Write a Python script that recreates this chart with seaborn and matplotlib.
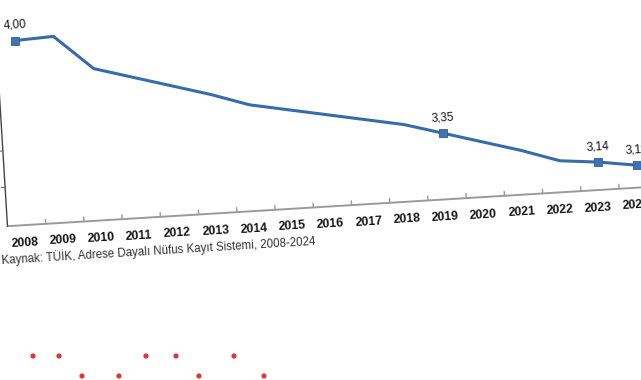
import numpy as np
import pandas as pd
import matplotlib
matplotlib.use("Agg")
import matplotlib.pyplot as plt
import matplotlib.transforms as mtransforms
import seaborn as sns

# Average household size, Turkey 2008-2024
years = [2008, 2009, 2010, 2011, 2012, 2013, 2014, 2015, 2016,
         2017, 2018, 2019, 2020, 2021, 2022, 2023, 2024]
household_size = [4.00, 4.01, 3.82, 3.76, 3.70, 3.64, 3.57, 3.53, 3.49,
                  3.45, 3.41, 3.35, 3.29, 3.23, 3.16, 3.14, 3.11]
labeled_years = [2008, 2019, 2023, 2024]
y_ticks = [3.2, 3.4]
source_text = "Kaynak: TÜİK, Adrese Dayalı Nüfus Kayıt Sistemi, 2008-2024"

# decorative red dots under the chart (page ornament), in pixels
dots_x = [33, 59, 146, 176, 234, 82, 119, 199, 264]
dots_y = [356, 356, 356, 356, 356, 376, 376, 376, 376]

line_color = "#386ca8"
text_color = "#151515"
tilt = 3.5  # the scan is slightly rotated

sns.set_style("white")
plt.rcParams['font.family'] = ['Liberation Sans', 'DejaVu Sans']

df = pd.DataFrame({"pos": np.arange(len(years)), "year": years, "size": household_size})
marked = df[df["year"].isin(labeled_years)]

fig = plt.figure(figsize=(6.41, 3.8), dpi=100)
ax = fig.add_axes([5.85 / 641, 173 / 380, 651.1 / 641, 203.05 / 380])
ax.set_xlim(-0.5, len(years) - 0.5)
y_min, y_max = 2.987, 4.1
ax.set_ylim(y_min, y_max)
ax.set_axis_off()

rot = mtransforms.Affine2D().rotate_deg_around(320.5, 190, tilt)
T = ax.transData + rot

# main line
sns.lineplot(data=df, x="pos", y="size", ax=ax, color=line_color,
             linewidth=2.2, sort=False, legend=False)
line = ax.lines[-1]
line.set_transform(T)
line.set_clip_on(False)
line.set_solid_joinstyle("round")

# square markers on labeled years
sns.scatterplot(data=marked, x="pos", y="size", ax=ax, marker="s", s=26,
                color="#4272b3", edgecolor="#2f5f9c", linewidth=0.6,
                zorder=3, legend=False)
pc = ax.collections[-1]
pc.set_offset_transform(T)
pc.set_clip_on(False)

for _, r in marked.iterrows():
    ax.annotate(f"{r['size']:.2f}".replace(".", ","), xy=(r["pos"], r["size"]),
                xycoords=T, xytext=(0, 7), textcoords="offset points",
                ha="center", va="bottom", fontsize=8.5, color=text_color,
                rotation=tilt, rotation_mode="anchor", annotation_clip=False)

# x axis line with ticks between categories
x_lo, x_hi = -0.5, len(years) - 0.5
ax.plot([x_lo, x_hi], [y_min, y_min], transform=T, color="#9a9a9a",
        lw=1.4, clip_on=False)
for b in np.arange(x_lo + 1, x_hi + 1):
    ax.plot([b, b], [y_min, y_min + 0.024], transform=T, color="#9a9a9a",
            lw=1.0, clip_on=False)

lab_tr = mtransforms.offset_copy(T, fig=fig, x=-2, y=-18, units="dots")
for p, yr in zip(df["pos"], years):
    ax.text(p, y_min, str(yr), transform=lab_tr, ha="center", va="center",
            fontsize=8.8, fontweight="bold", color=text_color, rotation=tilt,
            rotation_mode="anchor", clip_on=False)

# left y axis line
ax.plot([x_lo, x_lo], [y_min, 3.78], transform=T, color="#444444",
        lw=1.0, clip_on=False)
for v in y_ticks:
    ax.plot([x_lo - 0.1, x_lo], [v, v], transform=T, color="#666666",
            lw=0.8, clip_on=False)

# source note
src_tr = mtransforms.offset_copy(T, fig=fig, x=-6, y=-34, units="dots")
ax.text(x_lo, y_min, source_text, transform=src_tr, ha="left", va="center",
        fontsize=8.3, color="#333333", rotation=tilt, rotation_mode="anchor",
        clip_on=False)

# page ornament dots
deco = fig.add_axes([0, 0, 1, 1], zorder=-1)
deco.set_xlim(0, 641)
deco.set_ylim(380, 0)
deco.set_axis_off()
sns.scatterplot(x=dots_x, y=dots_y, ax=deco, color="#e5333b", s=14,
                edgecolor="none", legend=False)

fig.savefig("out.png", dpi=100)
